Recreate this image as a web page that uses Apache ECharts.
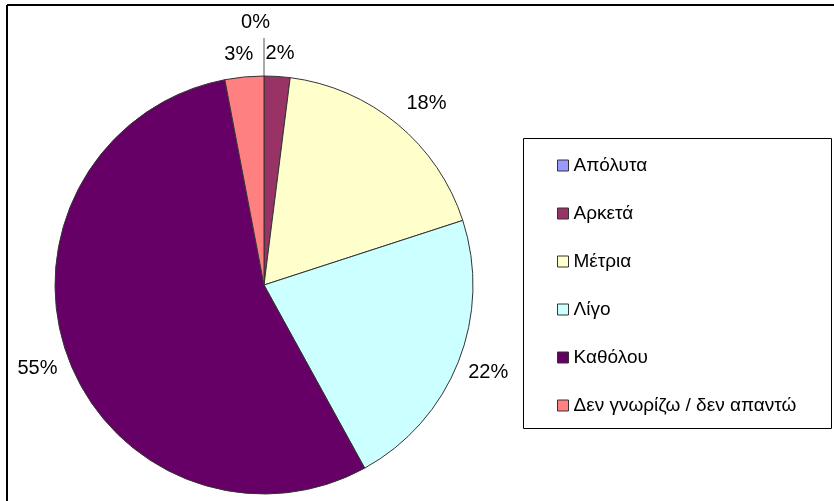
<!DOCTYPE html>
<html>
<head>
<meta charset="utf-8">
<script src="https://cdn.jsdelivr.net/npm/echarts@6/dist/echarts.min.js"></script>
<style>
  html, body { margin: 0; padding: 0; background: #fff; }
  #chart { width: 834px; height: 501px; }
</style>
</head>
<body>
<div id="chart"></div>
<script>
// categories and percentages
var categories = ['Απόλυτα', 'Αρκετά', 'Μέτρια', 'Λίγο', 'Καθόλου', 'Δεν γνωρίζω / δεν απαντώ'];
var values = [0, 2, 18, 22, 55, 3];
var colors = ['#9999FF', '#993366', '#FFFFCC', '#CCFFFF', '#660066', '#FF8080'];
// label placement per slice (distance out from the rim, sideways nudge)
var labelOut = [38, 23, 27, 30, 36, 23];
var labelSide = [0, -18, -13, -23, -29, -16];

var chart = echarts.init(document.getElementById('chart'));

var pieData = [];
for (var i = 0; i < categories.length; i++) {
  var item = {
    name: categories[i],
    value: values[i],
    itemStyle: { color: colors[i] },
    labelLine: { show: false, length: labelOut[i], length2: labelSide[i] }
  };
  if (values[i] === 0) {
    // the empty slice gets a leader line, like the original
    item.labelLine = { show: true, length: labelOut[i], length2: 0, lineStyle: { color: '#555', width: 1 } };
    item.label = { offset: [11, -16] };
  }
  pieData.push(item);
}

chart.setOption({
  animation: false,
  textStyle: { fontFamily: 'Liberation Sans, Arial, sans-serif' },
  graphic: [
    // outer frame (top and left edge of the pasted chart)
    { type: 'line', shape: { x1: 7, y1: 5, x2: 834, y2: 5 }, style: { stroke: '#000', lineWidth: 2 } },
    { type: 'line', shape: { x1: 7, y1: 5, x2: 7, y2: 501 }, style: { stroke: '#000', lineWidth: 2 } },
    // legend box
    { type: 'rect', shape: { x: 523.5, y: 138.5, width: 308, height: 290 }, style: { fill: '#fff', stroke: '#000', lineWidth: 1 }, z: -1 }
  ],
  legend: {
    orient: 'vertical',
    left: 552,
    top: 151,
    itemWidth: 11,
    itemHeight: 11,
    itemGap: 29,
    icon: 'rect',
    data: categories,
    textStyle: { fontSize: 19, color: '#000', fontFamily: 'Liberation Sans, Arial, sans-serif' },
    itemStyle: { borderColor: '#333', borderWidth: 1 }
  },
  series: [{
    type: 'pie',
    center: [264, 285],
    radius: 209,
    startAngle: 90,
    clockwise: true,
    avoidLabelOverlap: false,
    legendHoverLink: false,
    itemStyle: { borderColor: '#333', borderWidth: 1 },
    label: {
      show: true,
      position: 'outside',
      alignTo: 'none',
      formatter: '{c}%',
      fontSize: 20,
      color: '#000',
      fontFamily: 'Liberation Sans, Arial, sans-serif'
    },
    data: pieData
  }]
});
</script>
</body>
</html>
